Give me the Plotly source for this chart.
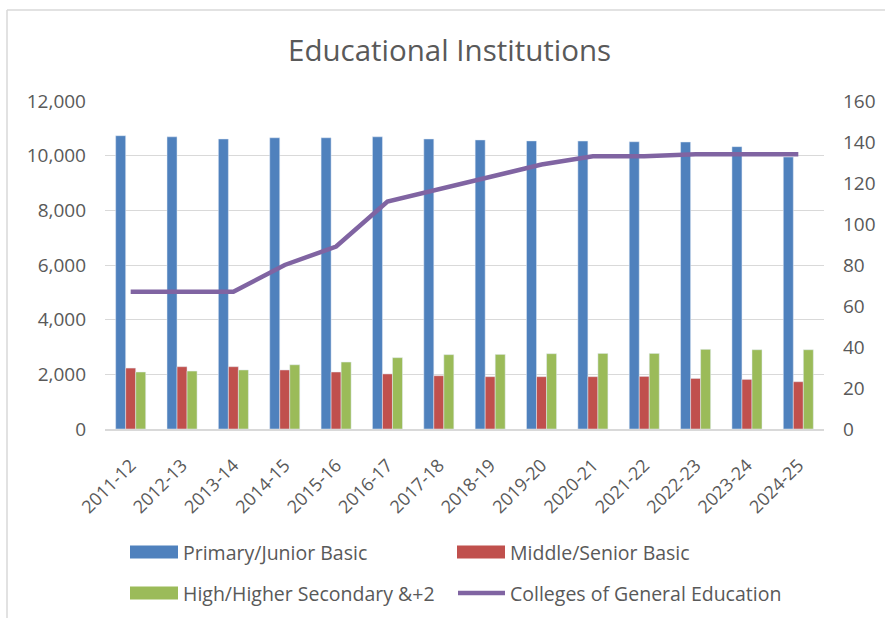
import plotly.graph_objects as go

years = ["2011-12", "2012-13", "2013-14", "2014-15", "2015-16", "2016-17", "2017-18",
         "2018-19", "2019-20", "2020-21", "2021-22", "2022-23", "2023-24", "2024-25"]
primary = [10730, 10690, 10610, 10655, 10655, 10690, 10610, 10575, 10540, 10535, 10510, 10500, 10330, 9950]
middle = [2230, 2280, 2280, 2160, 2085, 2015, 1950, 1915, 1915, 1915, 1925, 1850, 1815, 1730]
high = [2085, 2120, 2160, 2350, 2450, 2610, 2720, 2730, 2755, 2765, 2765, 2915, 2900, 2900]
colleges = [67, 67, 67, 80, 89, 111, 117, 123, 129, 133, 133, 134, 134, 134]

left_ticks = [0, 2000, 4000, 6000, 8000, 10000, 12000]
right_ticks = [0, 20, 40, 60, 80, 100, 120, 140, 160]

C_BLUE = "#4F81BD"
C_RED = "#C0504D"
C_GREEN = "#9BBB59"
C_PURPLE = "#8064A2"
TXT = "#595959"
GRID = "#D9D9D9"
FONT = "Open Sans"

W, H = 885, 618
L, R, T, B = 105, 61, 101, 189
PW, PH = W - L - R, H - T - B


def px(x):
    return (x - L) / PW


def py(y):
    return (H - B - y) / PH


fig = go.Figure()
fig.add_trace(go.Bar(x=years, y=primary, name="Primary/Junior Basic", marker_color=C_BLUE,
                     showlegend=False))
fig.add_trace(go.Bar(x=years, y=middle, name="Middle/Senior Basic", marker_color=C_RED,
                     showlegend=False))
fig.add_trace(go.Bar(x=years, y=high, name="High/Higher Secondary &+2", marker_color=C_GREEN,
                     showlegend=False))
fig.add_trace(go.Scatter(x=years, y=colleges, name="Colleges of General Education", yaxis="y2",
                         mode="lines", line=dict(color=C_PURPLE, width=4.5),
                         showlegend=False))

shapes = [
    # chart border
    dict(type="line", xref="paper", yref="paper", x0=px(7), x1=px(900), y0=py(10), y1=py(10),
         line=dict(color="#D9D9D9", width=1.5)),
    dict(type="line", xref="paper", yref="paper", x0=px(7), x1=px(7), y0=py(10), y1=py(630),
         line=dict(color="#D9D9D9", width=1.5)),
]

annotations = [
    dict(text="Educational Institutions", xref="paper", yref="paper", x=px(449), y=py(50),
         xanchor="center", yanchor="middle", showarrow=False,
         font=dict(family=FONT, size=29.5, color=TXT)),
]

legend_items = [
    ("Primary/Junior Basic", C_BLUE, "bar", 130, 552),
    ("Middle/Senior Basic", C_RED, "bar", 457, 552),
    ("High/Higher Secondary &+2", C_GREEN, "bar", 130, 593),
    ("Colleges of General Education", C_PURPLE, "line", 457, 593),
]
for name, col, kind, lx, ly in legend_items:
    if kind == "bar":
        shapes.append(dict(type="rect", xref="paper", yref="paper", x0=px(lx), x1=px(lx + 48),
                           y0=py(ly - 6.5), y1=py(ly + 6.5), fillcolor=col, line=dict(width=0)))
    else:
        shapes.append(dict(type="line", xref="paper", yref="paper", x0=px(lx + 1), x1=px(lx + 48),
                           y0=py(ly), y1=py(ly), line=dict(color=col, width=4.5)))
    annotations.append(dict(text=name, xref="paper", yref="paper", x=px(lx + 51), y=py(ly),
                            xanchor="left", yanchor="middle", showarrow=False,
                            font=dict(family=FONT, size=19.5, color=TXT)))

fig.update_layout(
    width=W, height=H,
    margin=dict(l=L, r=R, t=T, b=B, autoexpand=False),
    paper_bgcolor="white", plot_bgcolor="white",
    barmode="group", bargap=0.415, bargroupgap=0,
    font=dict(family=FONT, color=TXT),
    xaxis=dict(type="category", tickangle=-45, showgrid=False, showline=True,
               linecolor=GRID, linewidth=1.5, ticks="", ticklabelstandoff=17,
               tickfont=dict(family=FONT, size=18, color=TXT)),
    yaxis=dict(range=[0, 12000], tickvals=left_ticks, tickformat=",", showgrid=True,
               gridcolor=GRID, gridwidth=1, zeroline=False, showline=False, ticks="",
               ticklabelstandoff=18, tickfont=dict(family=FONT, size=19, color=TXT)),
    yaxis2=dict(range=[0, 160], tickvals=right_ticks, overlaying="y", side="right",
                showgrid=False, zeroline=False, showline=False, ticks="",
                ticklabelstandoff=18, tickfont=dict(family=FONT, size=19, color=TXT)),
    shapes=shapes,
    annotations=annotations,
)

fig.write_html("out.html", config={"displayModeBar": False},
               post_script="document.body.style.margin='0';document.body.style.padding='0';")
